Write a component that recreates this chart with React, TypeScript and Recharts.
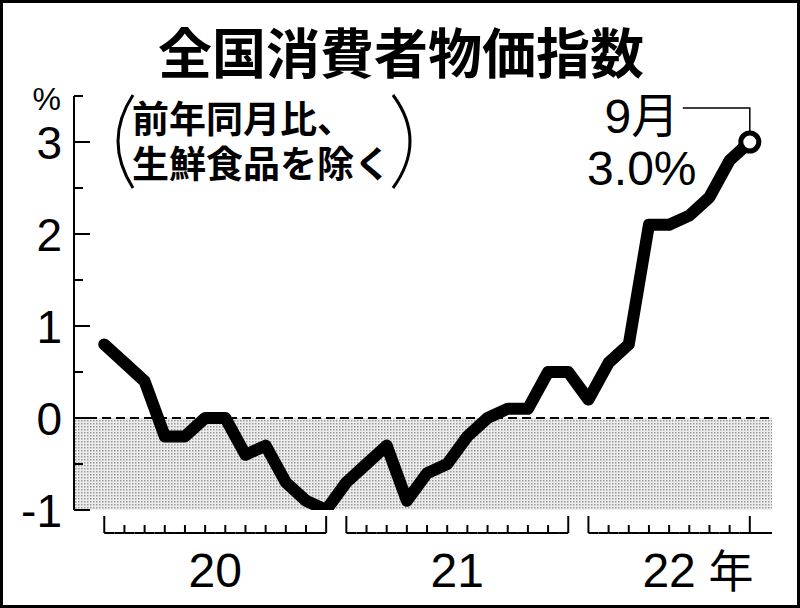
import React from "react";
import {
  LineChart,
  Line,
  XAxis,
  YAxis,
  ReferenceArea,
  ReferenceLine,
  LabelList,
} from "recharts";

// ---- data ----
const months: string[] = [
  "2020-01", "2020-02", "2020-03", "2020-04", "2020-05", "2020-06",
  "2020-07", "2020-08", "2020-09", "2020-10", "2020-11", "2020-12",
  "2021-01", "2021-02", "2021-03", "2021-04", "2021-05", "2021-06",
  "2021-07", "2021-08", "2021-09", "2021-10", "2021-11", "2021-12",
  "2022-01", "2022-02", "2022-03", "2022-04", "2022-05", "2022-06",
  "2022-07", "2022-08", "2022-09",
];
const cpiValues: number[] = [
  0.8, 0.6, 0.4, -0.2, -0.2, 0.0, 0.0, -0.4, -0.3, -0.7, -0.9, -1.0,
  -0.7, -0.5, -0.3, -0.9, -0.6, -0.5, -0.2, 0.0, 0.1, 0.1, 0.5, 0.5,
  0.2, 0.6, 0.8, 2.1, 2.1, 2.2, 2.4, 2.8, 3.0,
];
const yearLabels: Record<string, string> = { "2020": "20", "2021": "21", "2022": "22" };
const yTicks: number[] = [-1, -0.5, 0, 0.5, 1, 1.5, 2, 2.5, 3, 3.5];
const titleText = "全国消費者物価指数";
const subtitleLines = ["前年同月比、", "生鮮食品を除く"];
const lastMonthLabel = "9月";
const yearSuffix = "年";

const data = cpiValues.map((v, i) => ({ i, v, month: months[i] }));
const N = data.length;

// ---- layout ----
const W = 800;
const H = 608;
const Y_AXIS_W = 74;
const M_TOP = 96;
const M_RIGHT = 28;
const X_AXIS_H = 98;
const X_MIN = -1.5;
const X_MAX = 33.1;
const PLOT_W = W - Y_AXIS_W - M_RIGHT;
const PX_PER_UNIT = PLOT_W / (X_MAX - X_MIN);

const DIGIT_FONT = "'Liberation Sans', Arial, 'Noto Sans CJK JP', sans-serif";
const CJK_FONT = "'Noto Sans CJK JP', 'Liberation Sans', sans-serif";

const yearOf = (i: number) => months[i].slice(0, 4);

const groupRange = (yr: string) => {
  const idx = months.map((m, k) => (m.startsWith(yr) ? k : -1)).filter((k) => k >= 0);
  return [idx[0], idx[idx.length - 1]];
};

const XTick = (props: any) => {
  const { x, y, payload } = props;
  const i = payload.value as number;
  const yr = yearOf(i);
  const first = i === 0 || yearOf(i - 1) !== yr;
  const last = i === N - 1 || yearOf(i + 1) !== yr;
  const baseY = y + 23;
  const half = PX_PER_UNIT / 2;
  const tall = first || last;
  const els: React.ReactNode[] = [];
  els.push(
    <line key="v" x1={x} y1={baseY} x2={x} y2={baseY - (tall ? 17 : 8)} stroke="#000" strokeWidth={2} />
  );
  if (!first)
    els.push(<line key="l" x1={x - half} y1={baseY} x2={x} y2={baseY} stroke="#000" strokeWidth={2} />);
  if (!last)
    els.push(<line key="r" x1={x} y1={baseY} x2={x + half} y2={baseY} stroke="#000" strokeWidth={2} />);
  if (i === N - 1)
    els.push(
      <line key="e" x1={x} y1={baseY} x2={x + (X_MAX - i) * PX_PER_UNIT} y2={baseY} stroke="#000" strokeWidth={2} />
    );
  if (first) {
    const [a, b] = groupRange(yr);
    const cx = x + ((a + b) / 2 - i) * PX_PER_UNIT;
    els.push(
      <text key="t" x={cx} y={y + 77} textAnchor="middle" fontSize={48} fontFamily={DIGIT_FONT} fill="#000">
        {yearLabels[yr]}
      </text>
    );
    if (b === N - 1) {
      els.push(
        <text key="s" x={cx + 62} y={y + 78} textAnchor="middle" fontSize={45} fontFamily={CJK_FONT} fill="#000">
          {yearSuffix}
        </text>
      );
    }
  }
  return <g>{els}</g>;
};

const YTick = (props: any) => {
  const { x, y, payload } = props;
  const v = payload.value as number;
  const isInt = Number.isInteger(v);
  const isTop = v === yTicks[yTicks.length - 1];
  return (
    <g>
      <line x1={x} y1={y} x2={x + (isInt ? 16 : 9)} y2={y} stroke="#000" strokeWidth={2} />
      {isInt && (
        <text x={x - 12} y={y + 17} textAnchor="end" fontSize={46} fontFamily={DIGIT_FONT} fill="#000">
          {String(v)}
        </text>
      )}
      {isTop && (
        <text x={x - 13} y={y + 14} textAnchor="end" fontSize={32} fontFamily={DIGIT_FONT} fill="#000">
          %
        </text>
      )}
    </g>
  );
};

const LastDot = (props: any) => {
  const { cx, cy, index } = props;
  if (index !== N - 1) return <g key={`d${index}`} />;
  return <circle key={`d${index}`} cx={cx} cy={cy} r={9} fill="#fff" stroke="#000" strokeWidth={5} />;
};

const Annotation = (props: any) => {
  const { x, y, index, value } = props;
  if (index !== N - 1) return null;
  return (
    <g>
      <polyline
        points={`${x - 67},${y - 34} ${x},${y - 34} ${x},${y - 11}`}
        fill="none"
        stroke="#000"
        strokeWidth={1.5}
      />
      <text x={x - 108} y={y - 9} textAnchor="middle" fontSize={48} fontFamily={DIGIT_FONT} fill="#000">
        {lastMonthLabel}
      </text>
      <text x={x - 108} y={y + 43} textAnchor="middle" fontSize={48} fontFamily={DIGIT_FONT} fill="#000">
        {`${Number(value).toFixed(1)}%`}
      </text>
    </g>
  );
};

export default function App() {
  return (
    <div style={{ position: "absolute", left: 0, top: 0, width: W, height: H, background: "#fff" }}>
      <LineChart
        width={W}
        height={H}
        data={data}
        margin={{ top: M_TOP, right: M_RIGHT, bottom: 0, left: 0 }}
      >
        <defs>
          <pattern id="dots" width="3" height="3" patternUnits="userSpaceOnUse">
            <rect width="3" height="3" fill="#ececec" />
            <rect width="1.5" height="1.5" fill="#9a9a9a" />
          </pattern>
        </defs>
        <rect x={1.5} y={1.5} width={W - 3} height={H - 3} fill="none" stroke="#000" strokeWidth={3} />
        <text x={401} y={74} textAnchor="middle" fontSize={54} fontWeight="bold" fontFamily={CJK_FONT} fill="#000">
          {titleText}
        </text>
        <text x={132} y={133} fontSize={37} fontWeight="bold" fontFamily={CJK_FONT} fill="#000">
          {subtitleLines[0]}
        </text>
        <text x={132} y={178} fontSize={37} fontWeight="bold" fontFamily={CJK_FONT} fill="#000">
          {subtitleLines[1]}
        </text>
        <path d="M133,95 Q103,141 133,188" fill="none" stroke="#000" strokeWidth={3} />
        <path d="M393,95 Q427,141 393,188" fill="none" stroke="#000" strokeWidth={3} />

        <XAxis
          dataKey="i"
          type="number"
          domain={[X_MIN, X_MAX]}
          ticks={data.map((d) => d.i)}
          interval={0}
          height={X_AXIS_H}
          axisLine={false}
          tickLine={false}
          tickSize={0}
          tickMargin={0}
          tick={<XTick />}
          allowDataOverflow
        />
        <YAxis
          type="number"
          domain={[-1, 3.5]}
          ticks={yTicks}
          interval={0}
          width={Y_AXIS_W}
          axisLine={{ stroke: "#000", strokeWidth: 2 }}
          tickLine={false}
          tickSize={0}
          tickMargin={0}
          tick={<YTick />}
          allowDataOverflow
        />
        <ReferenceArea
          x1={X_MIN}
          x2={X_MAX}
          y1={-1}
          y2={0}
          fill="url(#dots)"
          fillOpacity={1}
          stroke="none"
          ifOverflow="visible"
        />
        <ReferenceLine y={0} stroke="#000" strokeWidth={2} strokeDasharray="9 5" />
        <Line
          type="linear"
          dataKey="v"
          stroke="#000"
          strokeWidth={12}
          strokeLinejoin="round"
          strokeLinecap="round"
          dot={LastDot}
          activeDot={false}
          isAnimationActive={false}
        >
          <LabelList dataKey="v" content={Annotation} />
        </Line>
      </LineChart>
    </div>
  );
}
